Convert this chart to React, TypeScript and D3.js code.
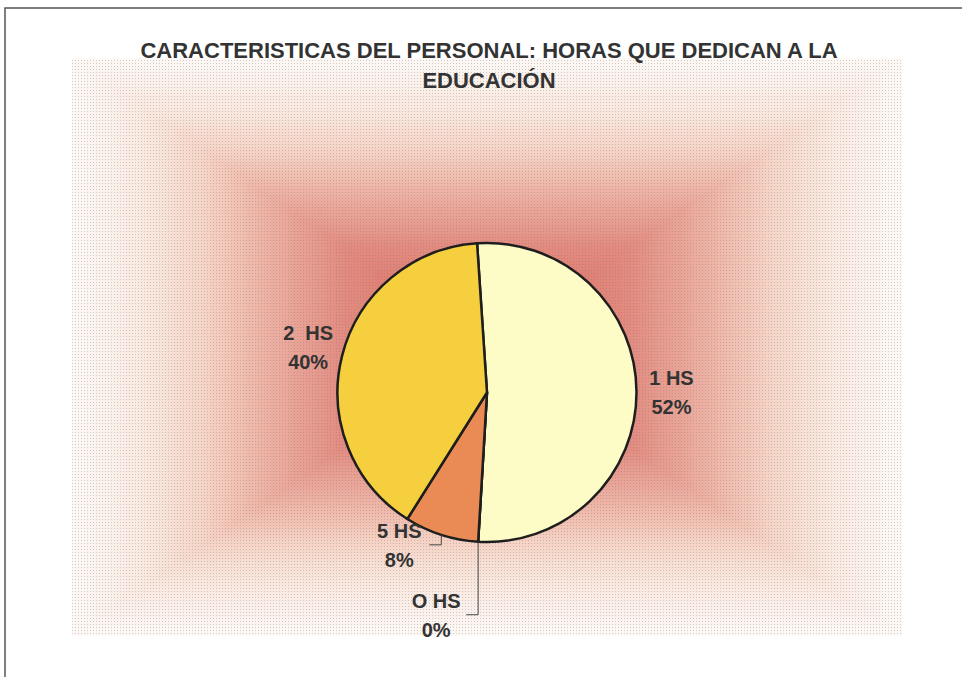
import React, { useEffect, useRef } from 'react';
import * as d3 from 'd3';

const titleLines = ['CARACTERISTICAS DEL PERSONAL: HORAS QUE DEDICAN A LA', 'EDUCACIÓN'];
const categories = ['1 HS', 'O HS', '5 HS', '2  HS'];
const percents = [52, 0, 8, 40];
const sliceColors = ['#fdfcc6', '#ea8b55', '#ea8b55', '#f6cf3e'];

// slices that get a leader line instead of sitting beside the pie
const leaderDrops: Record<string, number> = { 'O HS': 73, '5 HS': 10 };

const App = () => {
  const ref = useRef<SVGSVGElement>(null);

  useEffect(() => {
    const svg = d3.select(ref.current);
    svg.selectAll('*').remove();

    const width = 962;
    const height = 677;
    const plot = { x0: 72, y0: 58, x1: 902, y1: 636 };
    const cx = 487;
    const cy = 392.5;
    const radius = 149.5;
    const font = '"Liberation Sans", Arial, sans-serif';

    svg.append('rect').attr('width', width).attr('height', height).attr('fill', '#ffffff');

    // frame of the scanned page
    svg.append('path')
      .attr('d', `M5,${height} L5,8 L${width},8`)
      .attr('fill', 'none')
      .attr('stroke', '#555')
      .attr('stroke-width', 1.5);

    // rectangular "from center" gradient built from nested rects
    const bg = d3.scaleLinear<string>()
      .domain([0, 0.35, 0.55, 0.7, 0.85, 1])
      .range(['#da675c', '#e38b80', '#eeb4a6', '#f6d7c9', '#faebe3', '#fdf8f5'])
      .interpolate(d3.interpolateRgb);

    const halfW = (plot.x1 - plot.x0) / 2;
    const halfH = (plot.y1 - plot.y0) / 2;
    const pcx = plot.x0 + halfW;
    const pcy = plot.y0 + halfH;
    const steps = d3.range(90).map(i => 1 - i / 90);

    svg.append('g')
      .selectAll('rect')
      .data(steps)
      .join('rect')
        .attr('x', d => pcx - halfW * d)
        .attr('y', d => pcy - halfH * d)
        .attr('width', d => 2 * halfW * d)
        .attr('height', d => 2 * halfH * d)
        .attr('fill', d => bg(d));

    // halftone grain of the scan
    const defs = svg.append('defs');
    const pat = defs.append('pattern')
      .attr('id', 'grain')
      .attr('width', 3)
      .attr('height', 3)
      .attr('patternUnits', 'userSpaceOnUse');
    pat.append('rect').attr('width', 1).attr('height', 1).attr('fill', '#777').attr('opacity', 0.35);

    svg.append('rect')
      .attr('x', plot.x0)
      .attr('y', plot.y0)
      .attr('width', plot.x1 - plot.x0)
      .attr('height', plot.y1 - plot.y0)
      .attr('fill', 'url(#grain)');

    // title
    svg.append('g')
      .selectAll('text')
      .data(titleLines)
      .join('text')
        .attr('x', 489)
        .attr('y', (d, i) => 58 + i * 30)
        .attr('text-anchor', 'middle')
        .attr('font-family', font)
        .attr('font-weight', 'bold')
        .attr('font-size', 22)
        .attr('fill', '#333')
        .text(d => d);

    const start = -3.8 * Math.PI / 180;
    const pie = d3.pie<number>()
      .sort(null)
      .value(d => d)
      .startAngle(start)
      .endAngle(start + 2 * Math.PI);
    const arcs = pie(percents);
    const arc = d3.arc<d3.PieArcDatum<number>>().innerRadius(0).outerRadius(radius);

    const g = svg.append('g').attr('transform', `translate(${cx},${cy})`);

    g.selectAll('path')
      .data(arcs)
      .join('path')
        .attr('d', arc)
        .attr('fill', (d, i) => sliceColors[i])
        .attr('stroke', '#1e1e1e')
        .attr('stroke-width', 2.5)
        .attr('stroke-linejoin', 'round');

    const lineGap = 29;
    arcs.forEach((a, i) => {
      const name = categories[i];
      const mid = (a.startAngle + a.endAngle) / 2;
      let lx: number;
      let ly: number;
      if (leaderDrops[name] !== undefined) {
        const px = radius * Math.sin(mid);
        const py = -radius * Math.cos(mid);
        const ey = py + leaderDrops[name];
        const ex = px - 12;
        g.append('path')
          .attr('d', `M${px},${py} L${px},${ey} L${ex},${ey}`)
          .attr('fill', 'none')
          .attr('stroke', '#444')
          .attr('stroke-width', 1);
        lx = ex - 30;
        ly = ey;
      } else {
        const lr = radius + 35;
        lx = lr * Math.sin(mid);
        ly = -lr * Math.cos(mid);
      }
      const label = g.append('text')
        .attr('text-anchor', 'middle')
        .attr('font-family', font)
        .attr('font-weight', 'bold')
        .attr('font-size', 20)
        .attr('fill', '#333')
        .style('white-space', 'pre');
      label.append('tspan').attr('x', lx).attr('y', ly - 7).text(name);
      label.append('tspan').attr('x', lx).attr('y', ly - 7 + lineGap).text(`${percents[i]}%`);
    });
  }, []);

  return (
    <svg
      ref={ref}
      width="962"
      height="677"
      style={{ position: 'absolute', left: 0, top: 0 }}
    ></svg>
  );
};

export default App;
